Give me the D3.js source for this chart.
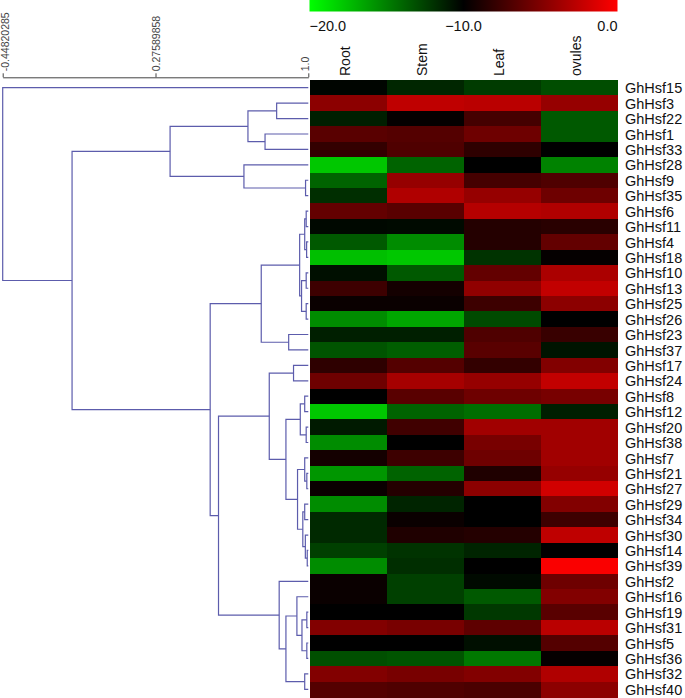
<!DOCTYPE html>
<html>
<head>
<meta charset="utf-8">
<script src="https://cdn.jsdelivr.net/npm/d3@7"></script>
<style>
  html, body { margin: 0; padding: 0; background: #fff; }
  svg { display: block; }
  text { font-family: "Liberation Sans", Arial, Helvetica, sans-serif; }
</style>
</head>
<body>
<svg id="chart" width="685" height="698"></svg>
<script>
// ---------------- DATA ----------------
const genes = ["GhHsf15","GhHsf3","GhHsf22","GhHsf1","GhHsf33","GhHsf28","GhHsf9","GhHsf35",
  "GhHsf6","GhHsf11","GhHsf4","GhHsf18","GhHsf10","GhHsf13","GhHsf25","GhHsf26","GhHsf23",
  "GhHsf37","GhHsf17","GhHsf24","GhHsf8","GhHsf12","GhHsf20","GhHsf38","GhHsf7","GhHsf21",
  "GhHsf27","GhHsf29","GhHsf34","GhHsf30","GhHsf14","GhHsf39","GhHsf2","GhHsf16","GhHsf19",
  "GhHsf31","GhHsf5","GhHsf36","GhHsf32","GhHsf40"];
const tissues = ["Root","Stem","Leaf","ovules"];

const rootVals   = [-10.2,-4.5,-11.2,-6.5,-8.0,-17.8,-13.9,-11.8,-6.1,-10.3,-13.5,-17.5,-10.6,-7.6,-9.6,-15.5,-11.2,-13.3,-8.2,-5.7,-10.0,-17.8,-11.0,-15.5,-9.2,-15.9,-9.6,-15.5,-11.6,-11.6,-12.5,-15.5,-9.6,-9.6,-10.0,-4.9,-10.0,-13.1,-4.9,-6.7];
const stemVals   = [-11.5,-2.5,-9.8,-6.7,-6.9,-13.9,-4.1,-3.1,-6.5,-10.4,-15.5,-17.8,-13.5,-9.2,-9.6,-16.5,-11.2,-13.7,-6.7,-3.5,-6.5,-13.9,-7.5,-10.0,-7.6,-13.9,-8.6,-11.4,-9.6,-8.8,-12.0,-11.8,-12.5,-12.5,-10.0,-5.3,-10.0,-13.3,-5.3,-6.9];
const leafVals   = [-12.3,-2.7,-7.3,-5.7,-8.2,-10.0,-7.3,-4.1,-2.9,-8.6,-8.6,-12.0,-6.1,-4.3,-7.6,-12.9,-6.9,-6.5,-8.0,-4.1,-5.7,-14.3,-3.7,-5.3,-5.7,-8.8,-4.5,-10.0,-10.0,-8.6,-11.4,-10.0,-10.4,-13.5,-12.2,-6.3,-10.6,-14.7,-4.9,-7.1];
const ovulesVals = [-13.0,-4.1,-13.5,-13.5,-10.0,-15.1,-6.9,-5.7,-3.1,-8.4,-6.1,-9.8,-3.3,-2.4,-4.5,-10.0,-7.8,-10.8,-4.9,-2.4,-5.3,-11.2,-3.7,-3.7,-3.7,-4.1,-1.8,-4.9,-7.6,-2.5,-10.0,-0.2,-5.7,-4.9,-6.5,-2.7,-6.7,-9.8,-3.1,-4.5];

const legendTicks = [-20, -10, 0];
const treeTicks = [-0.44820285, 0.27589858, 1.0];

// hclust-style merges: negative = leaf (-(row+1)), positive = earlier merge (1-based); third = similarity
const merges = [
  [-2,-3,0.850],[-4,-5,0.795],[1,2,0.714],[-7,-8,0.987],[-6,4,0.695],[3,5,0.345],
  [-9,-10,0.990],[-11,-12,0.992],[7,8,0.983],[-13,-14,0.990],[-15,-16,0.990],[10,11,0.968],
  [9,12,0.959],[-17,-18,0.907],[13,14,0.777],[-19,-20,0.930],[-21,-22,0.983],[-23,-24,0.990],
  [17,18,0.962],[-26,-27,0.993],[-25,20,0.983],[-28,-29,0.983],[-31,-32,0.995],[-30,23,0.986],
  [22,24,0.974],[21,25,0.949],[19,26,0.894],[16,27,0.815],[-35,-36,0.993],[-37,-38,0.993],
  [29,30,0.970],[-34,31,0.946],[-39,-40,0.983],[32,33,0.894],[-33,34,0.862],[28,35,0.5745],
  [15,36,0.535],[6,37,-0.1195],[-1,38,-0.44820285]
];

// ---------------- DRAW ----------------
const svg = d3.select("#chart");
const valuesBy = {Root: rootVals, Stem: stemVals, Leaf: leafVals, ovules: ovulesVals};

const y = d3.scaleBand().domain(genes).range([80, 697]);
const x = d3.scaleBand().domain(tissues).range([309.5, 617.5]);
const color = d3.scaleLinear().domain([-20, -10, 0]).range(["#00ff00", "#000000", "#ff0000"]);
const xTree = d3.scaleLinear().domain([-0.44820285, 1.0]).range([2.7, 308.3]);

// heatmap
const cells = [];
genes.forEach((g, i) => tissues.forEach(t => cells.push({g, t, v: valuesBy[t][i]})));
svg.append("g").selectAll("rect").data(cells).join("rect")
  .attr("x", d => x(d.t)).attr("y", d => y(d.g))
  .attr("width", x.bandwidth() + 0.6).attr("height", y.bandwidth() + 0.6)
  .attr("fill", d => color(d.v))
  .attr("shape-rendering", "crispEdges");

// row labels
svg.append("g").selectAll("text").data(genes).join("text")
  .attr("x", 625).attr("y", d => y(d) + y.bandwidth() / 2 + 5.6)
  .attr("font-size", "14.5px").attr("fill", "#111").text(d => d);

// column labels
svg.append("g").selectAll("text").data(tissues).join("text")
  .attr("transform", d => `translate(${x(d) + x.bandwidth() / 2 + 2},76) rotate(-90)`)
  .attr("text-anchor", "start").attr("font-size", "14px").attr("fill", "#111").text(d => d);

// legend
const lx = d3.scaleLinear().domain([-20, 0]).range([309.5, 617.5]);
const defs = svg.append("defs");
const grad = defs.append("linearGradient").attr("id", "lg").attr("x1", "0%").attr("x2", "100%");
legendTicks.forEach(t => grad.append("stop")
  .attr("offset", ((t + 20) / 20 * 100) + "%").attr("stop-color", color(t)));
svg.append("rect").attr("x", lx(-20)).attr("y", 0).attr("width", lx(0) - lx(-20)).attr("height", 11.5)
  .attr("fill", "url(#lg)");
svg.append("g").selectAll("text").data(legendTicks).join("text")
  .attr("x", d => lx(d)).attr("y", 30.5)
  .attr("text-anchor", (d, i) => i === 0 ? "start" : (i === legendTicks.length - 1 ? "end" : "middle"))
  .attr("font-size", "14.5px").attr("fill", "#111")
  .text(d => d3.format(".1f")(d));

// dendrogram axis
const axisG = svg.append("g").attr("transform", "translate(0,77.3)")
  .call(d3.axisTop(xTree).tickValues(treeTicks).tickSize(4).tickSizeOuter(0).tickFormat(d => String(d === 1 ? "1.0" : d)));
axisG.select(".domain").attr("stroke", "#444");
axisG.selectAll(".tick line").attr("stroke", "#444");
axisG.selectAll(".tick text")
  .attr("transform", "rotate(-90)")
  .attr("x", 6).attr("y", d => {
    const px = xTree(d);
    const c = Math.max(5, Math.min(305, px));
    return c - px;
  })
  .attr("dy", "0.35em")
  .attr("text-anchor", "start")
  .attr("font-size", "10.5px")
  .attr("font-family", "Liberation Sans, Arial, sans-serif")
  .attr("fill", "#444");

// dendrogram
const nodes = [];
function pos(ref) {
  if (ref < 0) {
    const g = genes[-ref - 1];
    return {x: xTree(1.0), y: y(g) + y.bandwidth() / 2};
  }
  return nodes[ref - 1];
}
const treeG = svg.append("g").attr("fill", "none").attr("stroke", "#5c5cac").attr("stroke-width", 1.2);
merges.forEach(([a, b, h]) => {
  const pa = pos(a), pb = pos(b);
  const nx = xTree(h), ny = (pa.y + pb.y) / 2;
  nodes.push({x: nx, y: ny});
  treeG.append("path")
    .attr("d", `M${pa.x},${pa.y}H${nx}V${pb.y}H${pb.x}`);
});
</script>
</body>
</html>
